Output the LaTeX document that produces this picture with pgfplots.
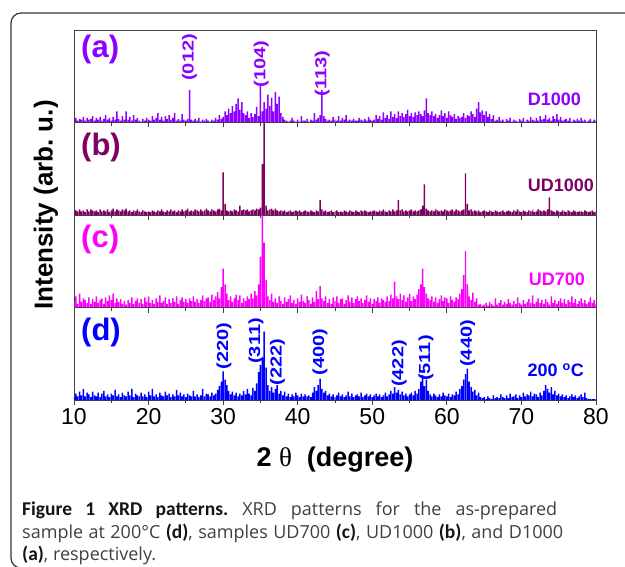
\documentclass[border=0pt]{standalone}
\usepackage{fontspec}
\setmainfont{Liberation Sans}
\newfontfamily\capfont{Open Sans}
\newfontfamily\capbold{Carlito}
\newfontfamily\serfont{Liberation Serif}
\usepackage{graphicx}
\usepackage{pgfplots}
\pgfplotsset{compat=1.18}
\frenchspacing

\definecolor{ca}{RGB}{140,0,255}
\definecolor{cb}{RGB}{128,0,100}
\definecolor{cc}{RGB}{255,0,255}
\definecolor{cd}{RGB}{0,0,255}

\pgfplotsset{panel/.style={
  scale only axis, width=522pt, height=92.5pt,
  xmin=10, xmax=80, ymin=0, ymax=1,
  xtick={10,20,...,80}, minor x tick num=1,
  ytick=\empty,
  tick align=outside, xtick pos=left,
  major tick length=5pt, minor tick length=3.5pt,
  axis line style={black!75, line width=0.8pt},
  every tick/.style={black!75, line width=0.8pt},
  xticklabel style={font=\fontsize{23}{23}\selectfont, text=black},
  /pgf/number format/assume math mode=true,
  anchor=south west,
}}
\pgfplotsset{spk/.style={ybar, bar width=0.2, bar shift=0pt, draw=none, fill=#1}}
\newcommand{\pk}[1]{\scalebox{1.25}[1]{#1}}
\newcommand{\cb}[1]{{\capbold\bfseries\fontsize{19.5}{22}\selectfont\color{black!92}#1}}
\tikzset{pl/.style={rotate=90, anchor=west, inner sep=0pt, font=\bfseries\fontsize{16}{16}\selectfont}}

\begin{document}
\begin{tikzpicture}
\path[use as bounding box] (0pt,-567pt) rectangle (625pt,0pt);
\begin{scope}
\clip (0pt,-567pt) rectangle (625pt,0pt);
\draw[line width=1.2pt, black!80, rounded corners=10pt] (11pt,-13pt) rectangle (660pt,-568pt);
\end{scope}

% (a) D1000
\begin{axis}[panel, at={(74pt,-122.5pt)}, xticklabels={}]
\addplot[spk=ca] table[header=false, row sep=\\, x expr=10+0.25*\coordindex, y index=0] {
0.02\\0.05\\0.02\\0.04\\ 0.03\\0.06\\0.02\\0.05\\ 0.03\\0.04\\0.07\\0.02\\ 0.05\\0.03\\0.06\\0.02\\
0.04\\0.08\\0.03\\0.05\\ 0.02\\0.06\\0.03\\0.12\\ 0.04\\0.02\\0.07\\0.03\\ 0.12\\0.03\\0.06\\0.02\\
0.08\\0.03\\0.05\\0.02\\ 0.01\\0.04\\0.02\\0.05\\ 0.03\\0.02\\0.07\\0.03\\ 0.05\\0.10\\0.03\\0.06\\
0.02\\0.07\\0.04\\0.08\\ 0.03\\0.05\\0.10\\0.02\\ 0.04\\0.02\\0.09\\0.03\\ 0.02\\0.04\\0.35\\0.03\\
0.02\\0.04\\0.02\\0.05\\ 0.01\\0.03\\0.02\\0.04\\ 0.02\\0.01\\0.03\\0.02\\ 0.05\\0.03\\0.08\\0.04\\
0.06\\0.12\\0.08\\0.15\\ 0.10\\0.18\\0.12\\0.20\\ 0.26\\0.14\\0.22\\0.10\\ 0.08\\0.12\\0.05\\0.10\\
0.06\\0.09\\0.17\\0.07\\ 0.40\\0.12\\0.22\\0.15\\ 0.30\\0.18\\0.27\\0.12\\ 0.33\\0.20\\0.28\\0.10\\
0.06\\0.03\\0.02\\0.01\\ 0.02\\0.05\\0.02\\0.01\\ 0.03\\0.01\\0.07\\0.02\\ 0.02\\0.04\\0.01\\0.03\\
0.02\\0.10\\0.03\\0.05\\ 0.08\\0.35\\0.07\\0.04\\ 0.02\\0.03\\0.02\\0.06\\ 0.03\\0.02\\0.07\\0.02\\
0.05\\0.03\\0.08\\0.02\\ 0.03\\0.02\\0.04\\0.02\\ 0.02\\0.05\\0.03\\0.02\\ 0.04\\0.02\\0.06\\0.03\\
0.02\\0.03\\0.08\\0.04\\ 0.07\\0.03\\0.11\\0.05\\ 0.08\\0.04\\0.12\\0.06\\ 0.09\\0.05\\0.12\\0.07\\
0.10\\0.06\\0.09\\0.14\\ 0.07\\0.10\\0.06\\0.11\\ 0.08\\0.12\\0.09\\0.07\\ 0.13\\0.26\\0.10\\0.08\\
0.12\\0.07\\0.09\\0.05\\ 0.08\\0.13\\0.07\\0.10\\ 0.05\\0.12\\0.08\\0.06\\ 0.09\\0.04\\0.07\\0.05\\
0.06\\0.10\\0.05\\0.08\\ 0.07\\0.12\\0.09\\0.06\\ 0.15\\0.22\\0.11\\0.13\\ 0.08\\0.12\\0.06\\0.09\\
0.04\\0.08\\0.02\\0.03\\ 0.06\\0.02\\0.03\\0.01\\ 0.04\\0.02\\0.05\\0.01\\ 0.03\\0.02\\0.01\\0.04\\
0.02\\0.05\\0.01\\0.03\\ 0.02\\0.06\\0.03\\0.02\\ 0.05\\0.02\\0.07\\0.03\\ 0.04\\0.08\\0.03\\0.05\\
0.02\\0.07\\0.04\\0.09\\ 0.03\\0.06\\0.02\\0.03\\ 0.04\\0.02\\0.05\\0.01\\ 0.03\\0.02\\0.04\\0.02\\
0.05\\0.02\\0.03\\0.01\\ 0.02\\0.04\\0.01\\0.03\\ 0.02\\
};
\node[pl, text=ca] at (axis cs:25.5,0.45) {\pk{(012)}};
\node[pl, text=ca] at (axis cs:35.1,0.38) {\pk{(104)}};
\node[pl, text=ca] at (axis cs:43.3,0.28) {\pk{(113)}};
\end{axis}

% (b) UD1000
\begin{axis}[panel, at={(74pt,-215pt)}, xticklabels={}]
\addplot[spk=cb] table[header=false, row sep=\\, x expr=10+0.25*\coordindex, y index=0] {
0.03\\0.05\\0.04\\0.06\\ 0.04\\0.05\\0.03\\0.06\\ 0.04\\0.06\\0.05\\0.04\\ 0.05\\0.03\\0.06\\0.04\\
0.05\\0.04\\0.06\\0.03\\ 0.05\\0.07\\0.04\\0.06\\ 0.05\\0.04\\0.06\\0.05\\ 0.07\\0.04\\0.05\\0.03\\
0.05\\0.04\\0.06\\0.04\\ 0.03\\0.05\\0.04\\0.03\\ 0.04\\0.03\\0.05\\0.04\\ 0.03\\0.05\\0.04\\0.06\\
0.04\\0.03\\0.05\\0.04\\ 0.06\\0.04\\0.05\\0.03\\ 0.05\\0.04\\0.06\\0.04\\ 0.05\\0.07\\0.04\\0.05\\
0.04\\0.06\\0.05\\0.04\\ 0.06\\0.04\\0.05\\0.07\\ 0.05\\0.04\\0.06\\0.05\\ 0.04\\0.06\\0.07\\0.05\\
0.46\\0.12\\0.05\\0.04\\ 0.05\\0.04\\0.06\\0.05\\ 0.04\\0.10\\0.05\\0.06\\ 0.05\\0.06\\0.04\\0.05\\
0.06\\0.05\\0.07\\0.06\\ 0.08\\0.55\\1.00\\0.10\\ 0.05\\0.06\\0.07\\0.05\\ 0.07\\0.05\\0.04\\0.05\\
0.04\\0.05\\0.03\\0.04\\ 0.05\\0.03\\0.04\\0.05\\ 0.04\\0.05\\0.03\\0.04\\ 0.05\\0.04\\0.03\\0.05\\
0.04\\0.03\\0.05\\0.04\\ 0.16\\0.06\\0.04\\0.05\\ 0.03\\0.04\\0.05\\0.03\\ 0.04\\0.05\\0.03\\0.04\\
0.03\\0.05\\0.04\\0.03\\ 0.05\\0.04\\0.03\\0.05\\ 0.04\\0.03\\0.05\\0.04\\ 0.05\\0.04\\0.03\\0.04\\
0.04\\0.05\\0.04\\0.03\\ 0.05\\0.04\\0.06\\0.04\\ 0.03\\0.05\\0.04\\0.06\\ 0.04\\0.05\\0.16\\0.05\\
0.06\\0.04\\0.05\\0.04\\ 0.05\\0.06\\0.04\\0.05\\ 0.04\\0.05\\0.06\\0.10\\ 0.33\\0.07\\0.05\\0.04\\
0.05\\0.04\\0.06\\0.05\\ 0.04\\0.05\\0.04\\0.06\\ 0.05\\0.04\\0.05\\0.06\\ 0.04\\0.06\\0.05\\0.04\\
0.05\\0.06\\0.45\\0.12\\ 0.05\\0.06\\0.04\\0.05\\ 0.04\\0.05\\0.03\\0.04\\ 0.05\\0.04\\0.03\\0.05\\
0.04\\0.03\\0.05\\0.04\\ 0.03\\0.04\\0.05\\0.03\\ 0.04\\0.05\\0.04\\0.03\\ 0.05\\0.04\\0.06\\0.04\\
0.03\\0.05\\0.04\\0.03\\ 0.05\\0.04\\0.05\\0.03\\ 0.04\\0.06\\0.05\\0.04\\ 0.05\\0.04\\0.06\\0.19\\
0.05\\0.04\\0.03\\0.05\\ 0.04\\0.03\\0.05\\0.04\\ 0.03\\0.05\\0.04\\0.03\\ 0.05\\0.04\\0.03\\0.04\\
0.04\\0.03\\0.05\\0.04\\ 0.03\\0.04\\0.05\\0.03\\ 0.04\\
};
\end{axis}

% (c) UD700
\begin{axis}[panel, at={(74pt,-307.5pt)}, xticklabels={}]
\addplot[spk=cc] table[header=false, row sep=\\, x expr=10+0.25*\coordindex, y index=0] {
0.05\\0.12\\0.04\\0.15\\ 0.06\\0.10\\0.08\\0.05\\ 0.11\\0.04\\0.09\\0.06\\ 0.12\\0.05\\0.08\\0.10\\
0.04\\0.11\\0.07\\0.13\\ 0.08\\0.15\\0.05\\0.10\\ 0.06\\0.09\\0.04\\0.07\\ 0.03\\0.08\\0.05\\0.11\\
0.04\\0.07\\0.10\\0.05\\ 0.09\\0.04\\0.11\\0.06\\ 0.12\\0.05\\0.08\\0.04\\ 0.10\\0.06\\0.13\\0.05\\
0.07\\0.11\\0.04\\0.09\\ 0.05\\0.10\\0.06\\0.12\\ 0.04\\0.08\\0.11\\0.06\\ 0.09\\0.05\\0.10\\0.07\\
0.12\\0.06\\0.09\\0.05\\ 0.08\\0.13\\0.07\\0.10\\ 0.11\\0.06\\0.14\\0.08\\ 0.12\\0.17\\0.10\\0.22\\
0.42\\0.25\\0.15\\0.08\\ 0.12\\0.06\\0.10\\0.14\\ 0.08\\0.13\\0.05\\0.10\\ 0.07\\0.12\\0.09\\0.15\\
0.10\\0.18\\0.13\\0.25\\ 0.55\\1.00\\0.70\\0.30\\ 0.12\\0.08\\0.15\\0.06\\ 0.10\\0.05\\0.12\\0.07\\
0.04\\0.11\\0.06\\0.09\\ 0.13\\0.05\\0.08\\0.04\\ 0.10\\0.06\\0.14\\0.07\\ 0.05\\0.12\\0.08\\0.04\\
0.11\\0.06\\0.18\\0.09\\ 0.23\\0.10\\0.07\\0.12\\ 0.05\\0.09\\0.04\\0.11\\ 0.07\\0.12\\0.05\\0.09\\
0.10\\0.04\\0.08\\0.13\\ 0.06\\0.11\\0.05\\0.09\\ 0.12\\0.07\\0.10\\0.05\\ 0.08\\0.13\\0.06\\0.10\\
0.04\\0.09\\0.07\\0.11\\ 0.05\\0.10\\0.08\\0.06\\ 0.12\\0.07\\0.14\\0.10\\ 0.28\\0.12\\0.09\\0.15\\
0.08\\0.13\\0.06\\0.11\\ 0.15\\0.07\\0.12\\0.09\\ 0.14\\0.20\\0.25\\0.42\\ 0.22\\0.15\\0.10\\0.08\\
0.12\\0.06\\0.11\\0.05\\ 0.09\\0.13\\0.07\\0.11\\ 0.10\\0.05\\0.12\\0.08\\ 0.06\\0.11\\0.09\\0.15\\
0.20\\0.35\\0.61\\0.25\\ 0.12\\0.08\\0.16\\0.06\\ 0.10\\0.03\\0.04\\0.02\\ 0.03\\0.05\\0.02\\0.06\\
0.04\\0.02\\0.10\\0.03\\ 0.05\\0.08\\0.03\\0.06\\ 0.04\\0.09\\0.05\\0.03\\ 0.07\\0.04\\0.11\\0.05\\
0.03\\0.08\\0.04\\0.06\\ 0.09\\0.05\\0.13\\0.04\\ 0.06\\0.10\\0.05\\0.08\\ 0.04\\0.09\\0.06\\0.03\\
0.12\\0.05\\0.08\\0.04\\ 0.07\\0.10\\0.05\\0.09\\ 0.04\\0.08\\0.06\\0.12\\ 0.05\\0.09\\0.04\\0.07\\
0.10\\0.05\\0.08\\0.04\\ 0.06\\0.11\\0.05\\0.08\\ 0.04\\
};
\end{axis}

% (d) 200 C
\begin{axis}[panel, at={(74pt,-400pt)}]
\addplot[spk=cd] table[header=false, row sep=\\, x expr=10+0.25*\coordindex, y index=0] {
0.03\\0.07\\0.04\\0.09\\ 0.05\\0.12\\0.04\\0.08\\ 0.06\\0.03\\0.09\\0.05\\ 0.04\\0.08\\0.03\\0.07\\
0.10\\0.04\\0.06\\0.03\\ 0.07\\0.05\\0.11\\0.04\\ 0.06\\0.03\\0.08\\0.05\\ 0.04\\0.09\\0.05\\0.12\\
0.03\\0.07\\0.05\\0.04\\ 0.08\\0.04\\0.06\\0.03\\ 0.09\\0.05\\0.12\\0.04\\ 0.06\\0.03\\0.08\\0.05\\
0.04\\0.09\\0.05\\0.07\\ 0.03\\0.06\\0.04\\0.11\\ 0.05\\0.08\\0.04\\0.06\\ 0.03\\0.07\\0.05\\0.04\\
0.10\\0.04\\0.06\\0.03\\ 0.05\\0.12\\0.04\\0.07\\ 0.06\\0.04\\0.08\\0.05\\ 0.07\\0.11\\0.15\\0.20\\
0.31\\0.22\\0.16\\0.10\\ 0.06\\0.09\\0.05\\0.08\\ 0.04\\0.07\\0.05\\0.10\\ 0.06\\0.12\\0.07\\0.05\\
0.13\\0.10\\0.18\\0.30\\ 0.38\\0.45\\0.74\\0.35\\ 0.16\\0.10\\0.14\\0.08\\ 0.12\\0.16\\0.07\\0.10\\
0.05\\0.09\\0.04\\0.07\\ 0.03\\0.06\\0.04\\0.08\\ 0.05\\0.03\\0.07\\0.04\\ 0.06\\0.04\\0.05\\0.03\\
0.08\\0.14\\0.10\\0.16\\ 0.23\\0.12\\0.08\\0.10\\ 0.05\\0.07\\0.04\\0.06\\ 0.03\\0.05\\0.08\\0.04\\
0.06\\0.03\\0.05\\0.09\\ 0.04\\0.07\\0.03\\0.05\\ 0.06\\0.04\\0.08\\0.03\\ 0.05\\0.07\\0.04\\0.06\\
0.03\\0.05\\0.07\\0.04\\ 0.06\\0.03\\0.05\\0.08\\ 0.04\\0.06\\0.10\\0.07\\ 0.14\\0.08\\0.11\\0.06\\
0.09\\0.05\\0.07\\0.04\\ 0.06\\0.08\\0.05\\0.10\\ 0.07\\0.12\\0.20\\0.27\\ 0.15\\0.22\\0.10\\0.06\\
0.04\\0.07\\0.05\\0.03\\ 0.06\\0.04\\0.08\\0.05\\ 0.04\\0.07\\0.03\\0.06\\ 0.05\\0.09\\0.06\\0.12\\
0.15\\0.22\\0.28\\0.34\\ 0.20\\0.14\\0.09\\0.11\\ 0.05\\0.08\\0.03\\0.02\\ 0.03\\0.01\\0.04\\0.02\\
0.01\\0.05\\0.02\\0.03\\ 0.02\\0.06\\0.03\\0.02\\ 0.05\\0.02\\0.07\\0.03\\ 0.04\\0.06\\0.02\\0.05\\
0.03\\0.08\\0.04\\0.06\\ 0.05\\0.09\\0.04\\0.07\\ 0.06\\0.03\\0.08\\0.05\\ 0.10\\0.16\\0.12\\0.08\\
0.14\\0.06\\0.10\\0.05\\ 0.07\\0.04\\0.06\\0.03\\ 0.05\\0.02\\0.04\\0.06\\ 0.03\\0.05\\0.02\\0.04\\
0.06\\0.03\\0.08\\0.02\\ 0.01\\0.01\\0.01\\0.01\\ 0.01\\
};
\node[pl, text=cd] at (axis cs:30.1,0.33) {\pk{(220)}};
\node[pl, text=cd] at (axis cs:34.4,0.39) {\pk{(311)}};
\node[pl, text=cd] at (axis cs:37.3,0.157) {\pk{(222)}};
\node[pl, text=cd] at (axis cs:43.0,0.265) {\pk{(400)}};
\node[pl, text=cd] at (axis cs:53.6,0.14) {\pk{(422)}};
\node[pl, text=cd] at (axis cs:57.2,0.205) {\pk{(511)}};
\node[pl, text=cd] at (axis cs:62.8,0.357) {\pk{(440)}};
\end{axis}

% panel letters
\node[anchor=base west, inner sep=0pt, text=ca, font=\bfseries\fontsize{31}{31}\selectfont] at (81pt,-58pt) {(a)};
\node[anchor=base west, inner sep=0pt, text=cb, font=\bfseries\fontsize{31}{31}\selectfont] at (81pt,-155.5pt) {(b)};
\node[anchor=base west, inner sep=0pt, text=cc, font=\bfseries\fontsize{31}{31}\selectfont] at (81pt,-248pt) {(c)};
\node[anchor=base west, inner sep=0pt, text=cd, font=\bfseries\fontsize{31}{31}\selectfont] at (81pt,-340.5pt) {(d)};

% sample names
\node[anchor=base east, inner sep=0pt, text=ca, font=\bfseries\fontsize{18}{18}\selectfont] at (581pt,-106pt) {D1000};
\node[anchor=base east, inner sep=0pt, text=cb, font=\bfseries\fontsize{18}{18}\selectfont] at (594pt,-192pt) {UD1000};
\node[anchor=base east, inner sep=0pt, text=cc, font=\bfseries\fontsize{18}{18}\selectfont] at (585pt,-286pt) {UD700};
\node[anchor=base east, inner sep=0pt, text=cd, font=\bfseries\fontsize{18}{18}\selectfont] at (584pt,-377pt) {200 \textsuperscript{o}C};

% axis titles
\node[rotate=90, font=\bfseries\fontsize{26}{26}\selectfont] at (46pt,-205pt) {Intensity (arb. u.)};
\node[anchor=base, font=\bfseries\fontsize{27}{27}\selectfont] at (335pt,-467pt) {2 {\serfont\mdseries θ}\ \ (degree)};

% caption
\node[anchor=base west, inner sep=0pt, text=black!75, font=\capfont\fontsize{18}{22}\selectfont] at (22pt,-515pt)
  {\makebox[535pt][s]{\cb{Figure 1 XRD patterns.} XRD patterns for the as-prepared}};
\node[anchor=base west, inner sep=0pt, text=black!75, font=\capfont\fontsize{18}{22}\selectfont] at (22pt,-538pt)
  {\makebox[541pt][s]{sample at 200°C \cb{(d)}, samples UD700 \cb{(c)}, UD1000 \cb{(b)}, and D1000}};
\node[anchor=base west, inner sep=0pt, text=black!75, font=\capfont\fontsize{18}{22}\selectfont] at (22pt,-560pt)
  {\cb{(a)}, respectively.};
\end{tikzpicture}
\end{document}
